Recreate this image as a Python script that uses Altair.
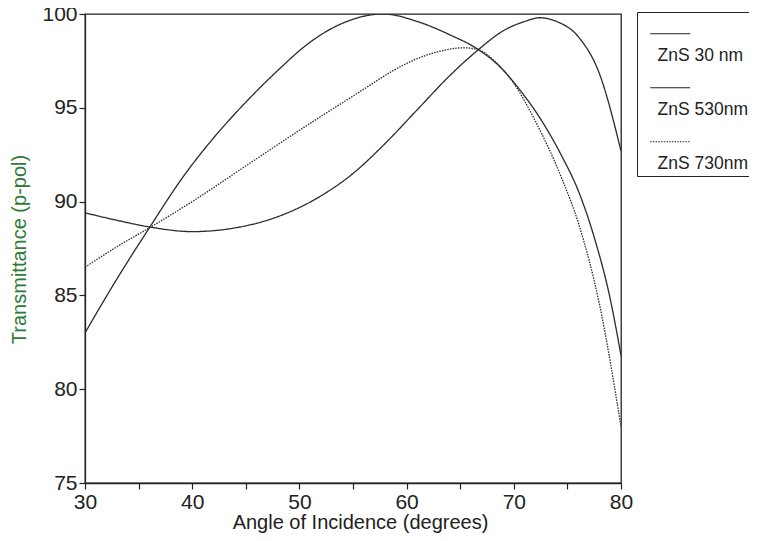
import altair as alt
import pandas as pd

# ---- data ----
series_names = ["ZnS 30 nm", "ZnS 530nm", "ZnS 730nm"]

ang_30 = [30, 33, 36, 39, 42, 45, 48, 51, 54, 57.8, 61, 64, 66.7, 68.5, 70.5, 72.5, 74.5, 76, 77.5, 79, 80]
val_30 = [83.0, 85.9, 88.6, 91.2, 93.4, 95.3, 97.0, 98.5, 99.5, 100.0, 99.6, 98.9, 98.1, 97.3, 96.0, 94.4, 92.4, 90.6, 88.1, 84.8, 81.8]

ang_530 = [30, 33, 36, 40, 44, 48, 52, 55, 58, 61, 64, 66.7, 69, 71, 72.4, 74, 76, 78, 80]
val_530 = [89.4, 89.0, 88.65, 88.4, 88.6, 89.2, 90.3, 91.5, 93.1, 94.9, 96.7, 98.1, 99.1, 99.6, 99.8, 99.6, 98.8, 96.8, 92.7]

ang_730 = [30, 33, 36, 40, 45, 50, 53, 56.3, 58.5, 60.9, 63, 65.3, 66.7, 68, 70, 72, 74.5, 76, 78, 80]
val_730 = [86.5, 87.6, 88.6, 90.0, 91.9, 93.8, 94.9, 96.1, 96.9, 97.6, 98.0, 98.2, 98.1, 97.6, 96.3, 94.3, 91.2, 88.9, 84.5, 78.0]

x_ticks = [30, 35, 40, 45, 50, 55, 60, 65, 70, 75, 80]
y_ticks = [75, 80, 85, 90, 95, 100]

rows = []
for name, angs, vals in [(series_names[0], ang_30, val_30),
                         (series_names[1], ang_530, val_530),
                         (series_names[2], ang_730, val_730)]:
    for i, (a, v) in enumerate(zip(angs, vals)):
        rows.append({"series": name, "angle": a, "T": v, "order": i})
df = pd.DataFrame(rows)

FONT = "Liberation Sans"

lines = alt.Chart(df).mark_line(
    interpolate="monotone", strokeWidth=1.3, color="#2b2b2b", clip=True
).encode(
    x=alt.X("angle:Q",
            scale=alt.Scale(domain=[30, 80], nice=False, zero=False),
            axis=alt.Axis(values=x_ticks, grid=False, labelFlush=False,
                          labelExpr="datum.value % 10 == 0 ? datum.label : ''",
                          title="Angle of Incidence (degrees)",
                          titleX=275, titleY=39, titleBaseline="middle")),
    y=alt.Y("T:Q",
            scale=alt.Scale(domain=[75, 100], nice=False, zero=False),
            axis=alt.Axis(values=y_ticks, grid=False, labelFlush=False,
                          title="Transmittance (p-pol)",
                          titleColor="#2e7a36",
                          titleX=-66, titleY=235, titleAngle=-90,
                          titleAlign="center", titleBaseline="middle")),
    strokeDash=alt.StrokeDash(
        "series:N",
        scale=alt.Scale(domain=series_names, range=[[1, 0], [1, 0], [1.5, 1.2]]),
        legend=alt.Legend(
            orient="none", legendX=552, legendY=-2,
            title="\u00a0" * 34, titleFontSize=14, titlePadding=18,
            symbolType="M 0.75 -11 L 20.75 -11", symbolSize=16,
            symbolStrokeWidth=1.2, symbolStrokeColor="#222",
            symbolFillColor="transparent",
            labelFont=FONT, labelFontSize=17.5, labelColor="#222",
            labelOffset=0, rowPadding=20, padding=3,
            strokeColor="#222", fillColor="white",
        ),
    ),
    order="order:Q",
)

chart = lines.properties(
    width=536, height=469,
    background="white",
    autosize=alt.AutoSizeParams(type="none"),
    padding={"left": 77, "top": 6, "right": 128, "bottom": 50},
).configure_view(
    stroke="#222", strokeWidth=1.3
).configure_axis(
    domainColor="#222", domainWidth=1.3, tickColor="#222", tickWidth=1.2,
    tickSize=6, labelFont=FONT, labelFontSize=21, labelColor="#222",
    labelPadding=2, titleFont=FONT, titleFontSize=20, titleFontWeight="normal",
    titleColor="#222",
)

chart.save("out.html", embed_options={"renderer": "svg", "actions": False})
